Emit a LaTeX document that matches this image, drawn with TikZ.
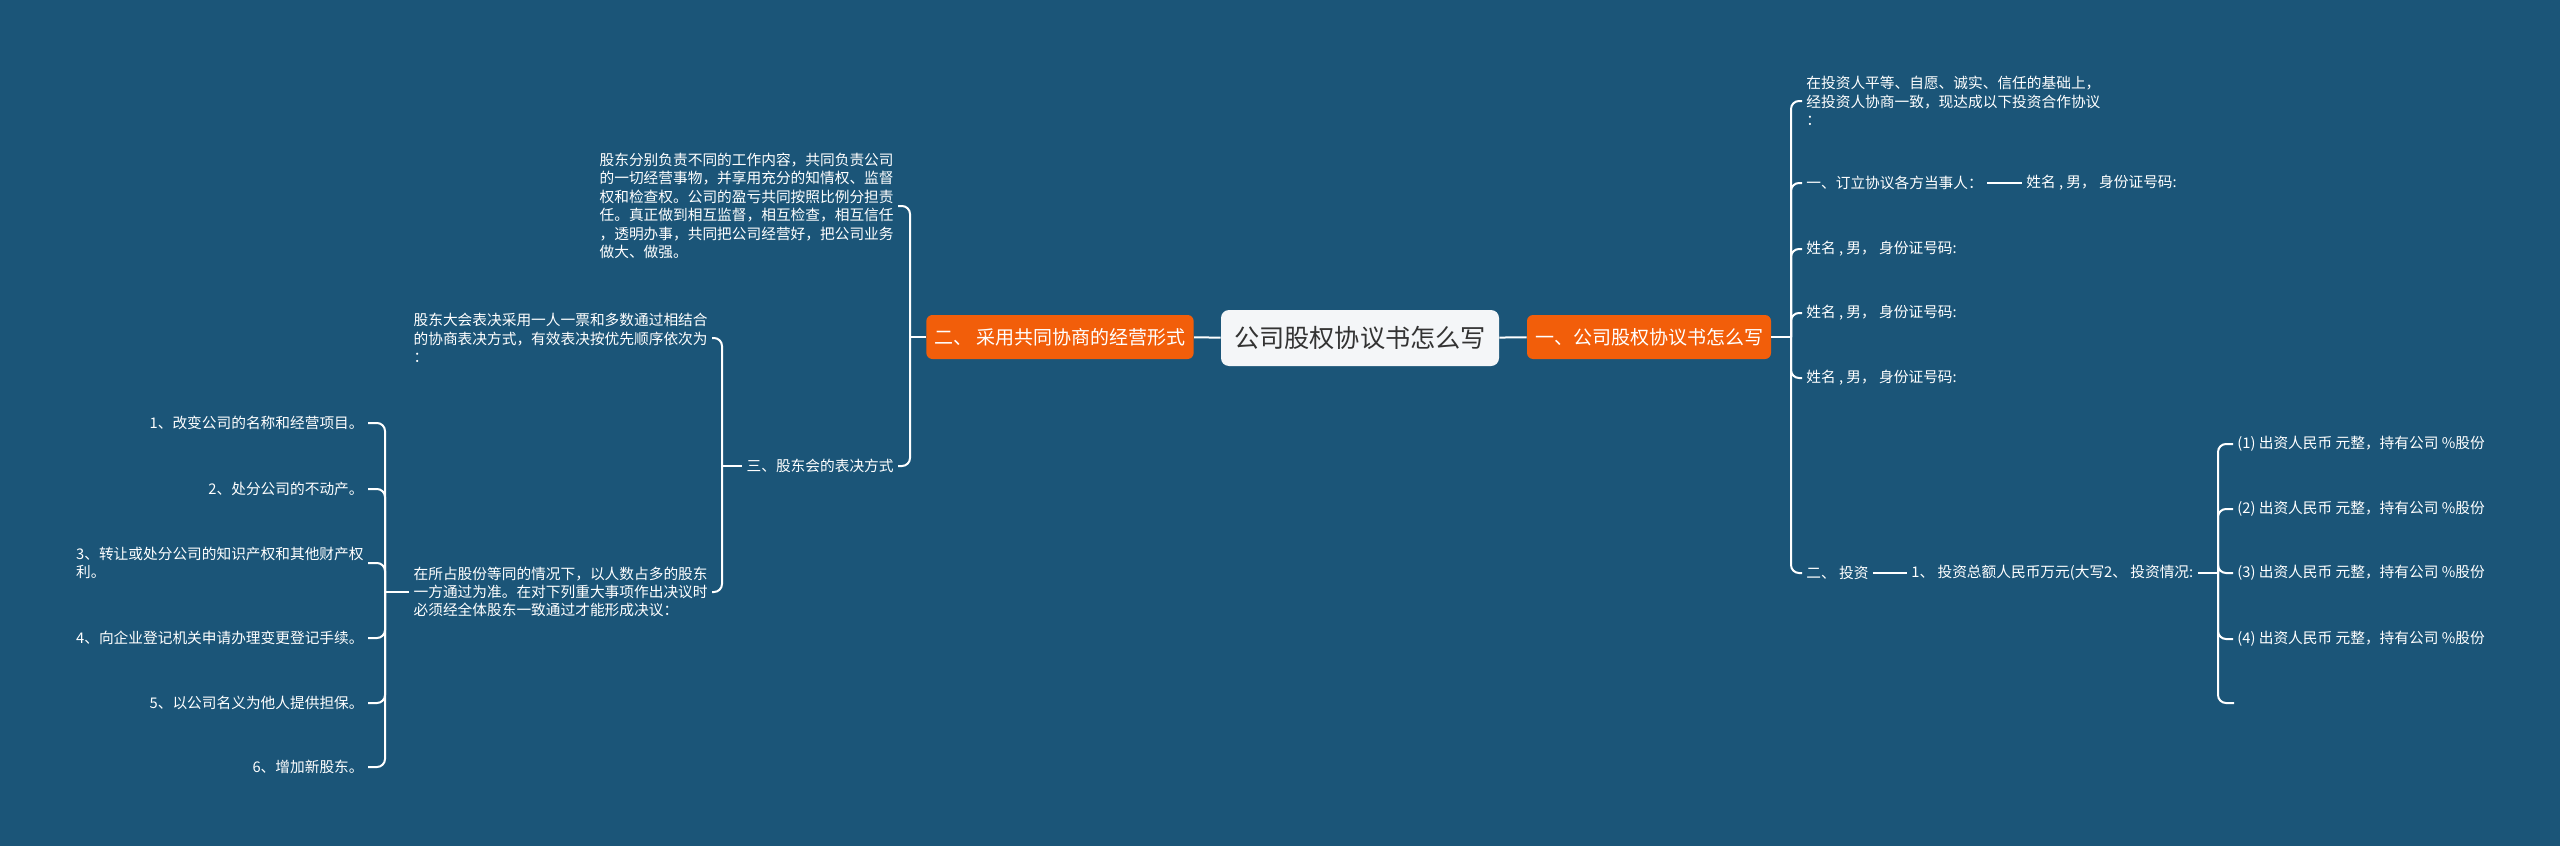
\documentclass[tikz,border=0pt]{standalone}
\usepackage{fontspec}
\setmainfont{Noto Sans CJK SC}
\definecolor{bgblue}{RGB}{27,85,120}
\definecolor{topicorange}{RGB}{242,94,10}
\definecolor{rootfill}{RGB}{244,246,248}
\begin{document}
\begin{tikzpicture}[x=0.5pt,y=-0.5pt,
  root/.style={fill=rootfill,rounded corners=4pt,minimum width=139pt,minimum height=28pt,font=\fontsize{12.6pt}{15pt}\selectfont,text=black!80},
  topic/.style={fill=topicorange,rounded corners=3pt,minimum height=22pt,inner xsep=4pt,font=\fontsize{9.5pt}{11pt}\selectfont,text=white},
  leaf/.style={text=white,align=left,inner sep=2pt,font=\fontsize{7.35pt}{9.2pt}\selectfont},
  link/.style={white,line width=1pt,rounded corners=4pt}]
\fill[bgblue] (0,0) rectangle (2560,846);
\useasboundingbox (0,0) rectangle (2560,846);

\node[root] (root) at (1360,338) {公司股权协议书怎么写};
\node[topic] (t1) at (1649,337) {一、公司股权协议书怎么写};
\node[topic] (t2) at (1060,337) {二、 采用共同协商的经营形式};

% right branch
\coordinate (rb) at (1791,337);
\node[leaf,anchor=west] (r1) at (1802,101) {在投资人平等、自愿、诚实、信任的基础上，\\经投资人协商一致，现达成以下投资合作协议\\：};
\node[leaf,anchor=west] (r2) at (1802,183) {一、订立协议各方当事人：};
\node[leaf,anchor=west] (r2a) at (2022,183) {姓名 , 男， 身份证号码:};
\node[leaf,anchor=west] (r3) at (1802,249) {姓名 , 男， 身份证号码:};
\node[leaf,anchor=west] (r4) at (1802,313) {姓名 , 男， 身份证号码:};
\node[leaf,anchor=west] (r5) at (1802,378) {姓名 , 男， 身份证号码:};
\node[leaf,anchor=west] (r6) at (1802,573) {二、 投资};
\node[leaf,anchor=west] (r6a) at (1907,573) {1、 投资总额人民币万元(大写2、 投资情况:};
\coordinate (rb2) at (2218,573);
\node[leaf,anchor=west] (s1) at (2233,444) {(1) 出资人民币 元整，持有公司 \%股份};
\node[leaf,anchor=west] (s2) at (2233,509) {(2) 出资人民币 元整，持有公司 \%股份};
\node[leaf,anchor=west] (s3) at (2233,573) {(3) 出资人民币 元整，持有公司 \%股份};
\node[leaf,anchor=west] (s4) at (2233,639) {(4) 出资人民币 元整，持有公司 \%股份};
\coordinate (s5) at (2234,703);

% left branch
\coordinate (lb) at (910,337);
\node[leaf,anchor=east] (l1) at (898,206) {股东分别负责不同的工作内容，共同负责公司\\的一切经营事物，并享用充分的知情权、监督\\权和检查权。公司的盈亏共同按照比例分担责\\任。真正做到相互监督，相互检查，相互信任\\，透明办事，共同把公司经营好，把公司业务\\做大、做强。};
\node[leaf,anchor=east] (l2) at (898,466) {三、股东会的表决方式};
\coordinate (lb2) at (722,466);
\node[leaf,anchor=east] (l3) at (712,338) {股东大会表决采用一人一票和多数通过相结合\\的协商表决方式，有效表决按优先顺序依次为\\：};
\node[leaf,anchor=east] (l4) at (712,592) {在所占股份等同的情况下，以人数占多的股东\\一方通过为准。在对下列重大事项作出决议时\\必须经全体股东一致通过才能形成决议：};
\coordinate (lb3) at (385,592);
\node[leaf,anchor=east] (m1) at (368,423) {1、改变公司的名称和经营项目。};
\node[leaf,anchor=east] (m2) at (368,489) {2、处分公司的不动产。};
\node[leaf,anchor=east] (m3) at (368,563) {3、转让或处分公司的知识产权和其他财产权\\利。};
\node[leaf,anchor=east] (m4) at (368,638) {4、向企业登记机关申请办理变更登记手续。};
\node[leaf,anchor=east] (m5) at (368,703) {5、以公司名义为他人提供担保。};
\node[leaf,anchor=east] (m6) at (368,767) {6、增加新股东。};

\draw[link] (root) -- (t1);
\draw[link] (root) -- (t2);

\draw[link] (t1.east) -- (rb);
\foreach \n in {r1,r2,r3,r4,r5,r6}
  \draw[link] (rb) |- (\n.west);
\draw[link] (r2.east) -- (r2a.west);
\draw[link] (r6.east) -- (r6a.west);
\draw[link] (r6a.east) -- (rb2);
\foreach \n in {s1,s2,s3,s4}
  \draw[link] (rb2) |- (\n.west);
\draw[link] (rb2) |- (s5);

\draw[link] (t2.west) -- (lb);
\foreach \n in {l1,l2}
  \draw[link] (lb) |- (\n.east);
\draw[link] (l2.west) -- (lb2);
\foreach \n in {l3,l4}
  \draw[link] (lb2) |- (\n.east);
\draw[link] (l4.west) -- (lb3);
\foreach \n in {m1,m2,m3,m4,m5,m6}
  \draw[link] (lb3) |- (\n.east);
\end{tikzpicture}
\end{document}
